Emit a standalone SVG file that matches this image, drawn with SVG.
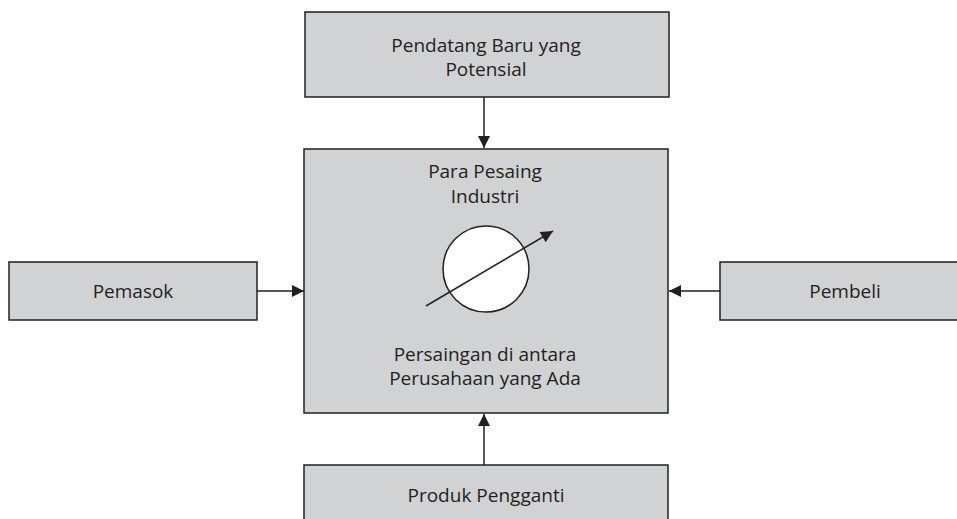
<svg xmlns="http://www.w3.org/2000/svg" width="957" height="519" viewBox="0 0 957 519">
<style>
.box{fill:#d1d2d4;stroke:#231f20;stroke-width:1.5}
.lbl{font-family:"Open Sans","Noto Sans",sans-serif;font-size:19px;fill:#231f20;text-anchor:middle}
.con{stroke:#231f20;stroke-width:1.5;fill:none}
</style>
<defs>
<marker id="ah" viewBox="0 0 10 10" refX="10" refY="5" markerWidth="15" markerHeight="12" markerUnits="userSpaceOnUse" orient="auto">
<path d="M0,0 L10,5 L0,10 Z" fill="#231f20"/>
</marker>
</defs>
<rect width="957" height="519" fill="#ffffff"/>
<g id="node-pendatang">
<rect class="box" x="305" y="12" width="364" height="85"/>
<text class="lbl" x="486" y="52">Pendatang Baru yang</text>
<text class="lbl" x="486" y="76">Potensial</text>
</g>
<g id="node-pesaing">
<rect class="box" x="304" y="149" width="364" height="264"/>
<text class="lbl" x="485" y="178">Para Pesaing</text>
<text class="lbl" x="485" y="203">Industri</text>
<circle cx="486" cy="269" r="43" fill="#ffffff" stroke="#231f20" stroke-width="1.5"/>
<line class="con" x1="426" y1="306" x2="553" y2="231" marker-end="url(#ah)"/>
<text class="lbl" x="485" y="361">Persaingan di antara</text>
<text class="lbl" x="485" y="385">Perusahaan yang Ada</text>
</g>
<g id="node-pemasok">
<rect class="box" x="9" y="262" width="248" height="58"/>
<text class="lbl" x="133" y="298">Pemasok</text>
</g>
<g id="node-pembeli">
<rect class="box" x="720" y="262" width="260" height="58"/>
<text class="lbl" x="845" y="298">Pembeli</text>
</g>
<g id="node-produk">
<rect class="box" x="304" y="465" width="364" height="70"/>
<text class="lbl" x="486" y="502">Produk Pengganti</text>
</g>
<g id="connectors">
<line class="con" x1="484" y1="97" x2="484" y2="148" marker-end="url(#ah)"/>
<line class="con" x1="257" y1="291" x2="304" y2="291" marker-end="url(#ah)"/>
<line class="con" x1="720" y1="291" x2="669" y2="291" marker-end="url(#ah)"/>
<line class="con" x1="484" y1="465" x2="484" y2="414" marker-end="url(#ah)"/>
</g>
</svg>
